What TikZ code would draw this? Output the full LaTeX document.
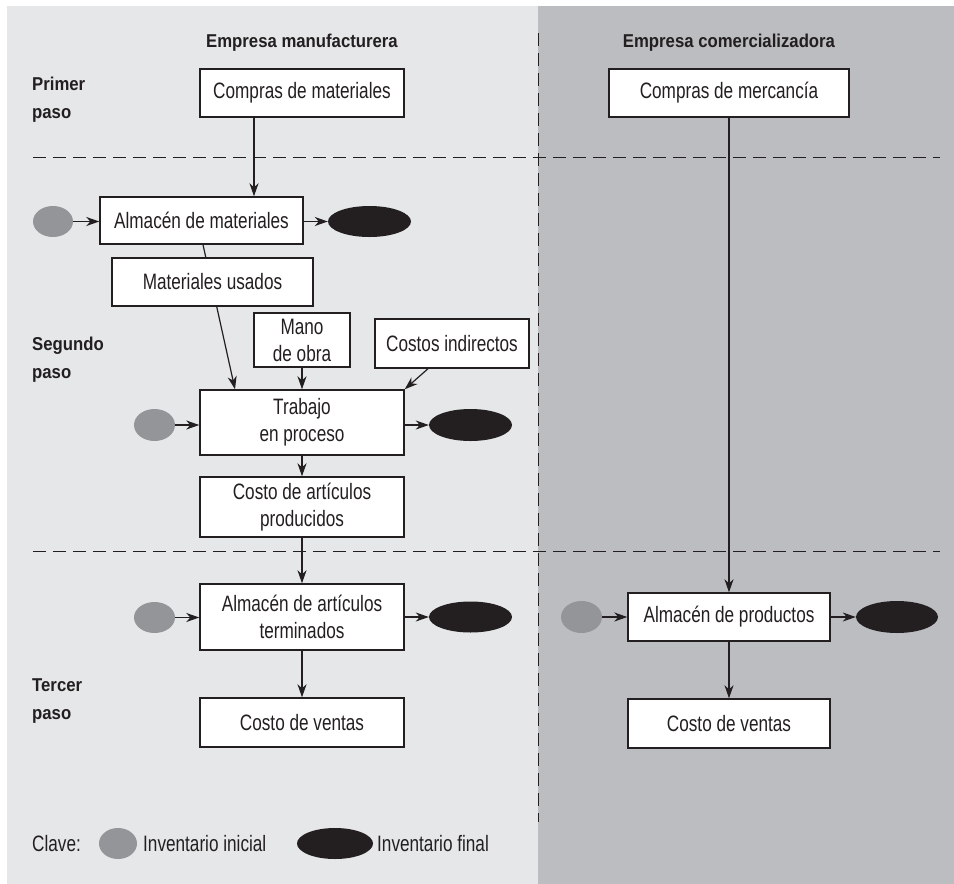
\documentclass[tikz,border=0pt]{standalone}
\usepackage{fontspec}
\setmainfont{Liberation Sans}[FakeStretch=0.77]
\newfontfamily\headfont{Liberation Sans Bold}[FakeStretch=0.9]
\usetikzlibrary{arrows.meta,shapes.geometric,calc}
\definecolor{ink}{HTML}{231F20}
\definecolor{panellight}{HTML}{E6E7E8}
\definecolor{paneldark}{HTML}{BCBDC0}
\definecolor{inigray}{HTML}{939598}
\begin{document}
\begin{tikzpicture}[x=1pt,y=-1pt,
  box/.style={draw=ink, line width=1.4pt, fill=white, text=ink, inner sep=0pt,
    align=center, font=\fontsize{22.3}{27}\selectfont},
  ini/.style={ellipse, fill=inigray, inner sep=0pt, minimum width=41pt, minimum height=32pt},
  fin/.style={ellipse, fill=ink, inner sep=0pt, minimum width=83pt, minimum height=32pt},
  arr/.style={draw=ink, line width=1.2pt, -{Stealth[length=13pt,width=9pt,inset=4pt]}},
  divider/.style={draw=ink, line width=1pt, dash pattern=on 13pt off 7pt},
  head/.style={text=ink, inner sep=0pt, font=\headfont\fontsize{18.6}{28}\selectfont},
  step label/.style={head, anchor=west, align=left},
  keytext/.style={text=ink, inner sep=0pt, anchor=west, font=\fontsize{22.3}{27}\selectfont}]

\useasboundingbox (0,0) rectangle (954,884);

% background panels
\fill[panellight] (7,6) rectangle (954,884);
\fill[paneldark] (538,6) rectangle (954,884);

% dividers between steps and between companies
\draw[divider] (33,157) -- (940,157);
\draw[divider] (33,551) -- (940,551);
\draw[divider] (538,33) -- (538,822);

% column headings
\node[head] (hman) at (302,43) {Empresa manufacturera};
\node[head] (hcom) at (729,43) {Empresa comercializadora};

% step labels
\node[step label] (s1) at (32,100) {Primer\\paso};
\node[step label] (s2) at (32,360) {Segundo\\paso};
\node[step label] (s3) at (32,701) {Tercer\\paso};

% manufacturing company
\node[box, minimum width=204pt, minimum height=48pt] (cm) at (302,93) {Compras de materiales};
\node[box, minimum width=203pt, minimum height=47pt] (am) at (201.5,220.5) {Almacén de materiales};
\node[ini, minimum width=40pt, minimum height=31pt] (g1) at (53,221.5) {};
\node[fin, minimum height=31pt] (b1) at (369.5,221.5) {};
\node[box, minimum width=96pt, minimum height=54pt] (mo) at (302,340) {Mano\\de obra};
\node[box, minimum width=154pt, minimum height=49pt] (ci) at (452,343.5) {Costos indirectos};
\node[box, minimum width=204pt, minimum height=65pt] (tp) at (302,422.5) {Trabajo\\en proceso};
\node[ini] (g2) at (154.5,425) {};
\node[fin] (b2) at (470.5,425) {};
\node[box, minimum width=204pt, minimum height=60pt] (cap) at (302,507) {Costo de artículos\\producidos};
\node[box, minimum width=204pt, minimum height=66pt] (aat) at (302,617) {Almacén de artículos\\terminados};
\node[ini, minimum height=31pt] (g3) at (154.5,617.5) {};
\node[fin, minimum height=31pt] (b3) at (470.5,617) {};
\node[box, minimum width=204pt, minimum height=49pt] (cv1) at (302,722.5) {Costo de ventas};

% materials flow into work in process, passing behind "Materiales usados"
\draw[arr] ([xshift=1.5pt]am.south) -- ([xshift=-67pt]tp.north);
\node[box, minimum width=201pt, minimum height=48pt] (mu) at (212.5,282) {Materiales usados};

\draw[arr] ([xshift=-48pt]cm.south) -- ([xshift=52.5pt]am.north);
\draw[arr] (g1.east) -- (g1.east -| am.west);
\draw[arr] (am.east |- b1.west) -- (b1.west);
\draw[arr] (mo.south) -- (mo.south |- tp.north);
\draw[arr] ([xshift=-24pt]ci.south) -- (tp.north east);
\draw[arr] (g2.east) -- (g2.east -| tp.west);
\draw[arr] (tp.east |- b2.west) -- (b2.west);
\draw[arr] (tp.south) -- (cap.north);
\draw[arr] (cap.south) -- (aat.north);
\draw[arr] (g3.east) -- (g3.east -| aat.west);
\draw[arr] (aat.east |- b3.west) -- (b3.west);
\draw[arr] (aat.south) -- (cv1.north);

% trading company
\node[box, minimum width=240pt, minimum height=48pt] (cmc) at (729,93) {Compras de mercancía};
\node[box, minimum width=202pt, minimum height=48pt] (ap) at (729,617) {Almacén de productos};
\node[ini] (g4) at (581.5,617) {};
\node[fin, minimum width=82pt] (b4) at (897,617) {};
\node[box, minimum width=202pt, minimum height=49pt] (cv2) at (729,723.5) {Costo de ventas};
\draw[arr] (cmc.south) -- (ap.north);
\draw[arr] (g4.east) -- (g4.east -| ap.west);
\draw[arr] (ap.east |- b4.west) -- (b4.west);
\draw[arr] (ap.south) -- (cv2.north);

% key
\node[keytext] (clave) at (32,843.5) {Clave:};
\node[ini, minimum width=38pt, minimum height=31pt] (gk) at (118,843.5) {};
\node[keytext] (kini) at (143,843.5) {Inventario inicial};
\node[fin, minimum width=76pt, minimum height=31pt] (bk) at (335,843.5) {};
\node[keytext] (kfin) at (377,843.5) {Inventario final};
\end{tikzpicture}
\end{document}
